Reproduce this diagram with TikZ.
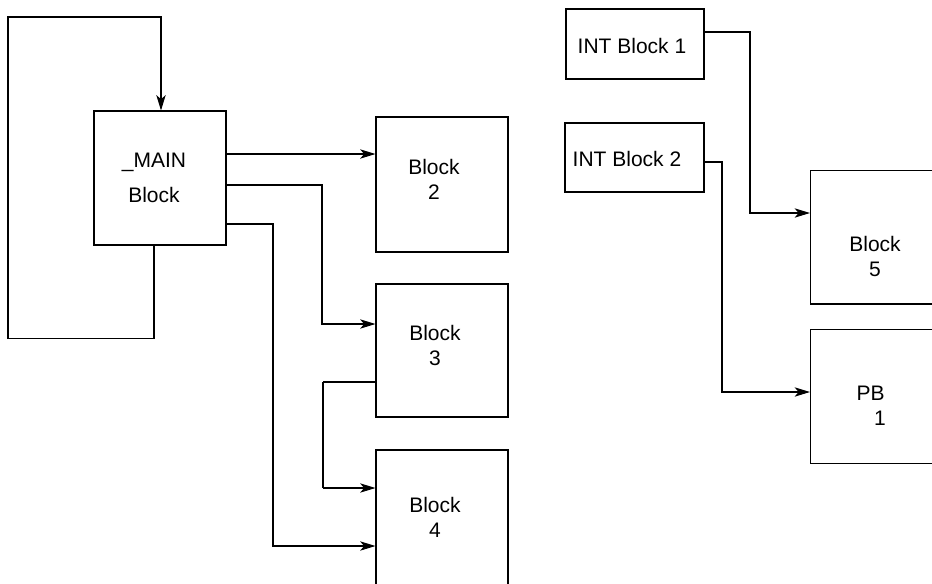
\documentclass[tikz,border=0pt]{standalone}
\usepackage{fontspec}
\setmainfont{Liberation Sans}
\usetikzlibrary{arrows.meta}
\begin{document}
\begin{tikzpicture}[x=0.75pt,y=-0.75pt,
  blk/.style={draw, line width=0.8pt, rectangle, inner sep=0pt},
  lbl/.style={align=center, inner sep=0pt, font=\fontsize{15.75pt}{18.75pt}\selectfont},
  lblwide/.style={lbl, font=\fontsize{15.75pt}{26.25pt}\selectfont},
  con/.style={line width=0.8pt},
  thickcon/.style={line width=2.2pt},
  arr/.style={con, -{Stealth[length=11.5pt,width=7pt,inset=3pt]}}]
\clip (0,0) rectangle (932,583);
% boxes
\node[blk, minimum width=99pt, minimum height=100.5pt] (main) at (160,178) {};
\node[blk, minimum width=99pt, minimum height=101.25pt] (b2) at (442,184.5) {};
\node[blk, minimum width=99pt, minimum height=99.75pt] (b3) at (442,350.5) {};
\node[blk, minimum width=99pt, minimum height=101.25pt] (b4) at (442,517.5) {};
\node[blk, minimum width=99pt, minimum height=100pt] (b5) at (876.5,237.3) {};
\node[blk, minimum width=99pt, minimum height=100.5pt] (pb) at (876.5,396.3) {};
\node[blk, minimum width=103.5pt, minimum height=52.5pt] (int1) at (635,44) {};
\node[blk, minimum width=104.25pt, minimum height=51.75pt] (int2) at (634.5,157.5) {};
% labels
\node[lblwide] (mainT) at (154,177.5) {\_MAIN\\Block};
\node[lbl] (b2T) at (434,179) {Block\\2};
\node[lbl] (b3T) at (435,345) {Block\\3};
\node[lbl] (b4T) at (435,517) {Block\\4};
\node[lbl] (b5T) at (875,256.5) {Block\\5};
\node[lbl] (pbT) at (870.5,405.5) {PB\\\hspace*{14pt}1};
\node[lbl] (int1T) at (632,45.5) {INT Block 1};
\node[lbl] (int2T) at (627,159) {INT Block 2};
% waypoints
\coordinate (fbA) at (154,338.7);
\coordinate (fbB) at (8,338.7);
\coordinate (fbC) at (8,17);
\coordinate (fbD) at (161,17);
\coordinate (m2) at (300,154);
\coordinate (m3a) at (322,185);
\coordinate (m3b) at (322,324);
\coordinate (m4a) at (273,224);
\coordinate (m4b) at (273,546);
\coordinate (t1) at (323,382);
\coordinate (t2) at (323,488);
\coordinate (i1a) at (750,32);
\coordinate (i1b) at (750,213);
\coordinate (i2a) at (722,162);
\coordinate (i2b) at (722,392);
% connectors
\draw[arr] (main.south -| fbA) -- (fbA) -- (fbB) -- (fbC) -- (fbD) -- (main.north -| fbD);
\draw[arr] (main.east |- m2) -- (b2.west |- m2);
\draw[arr] (main.east |- m3a) -- (m3a) -- (m3b) -- (b3.west |- m3b);
\draw[arr] (main.east |- m4a) -- (m4a) -- (m4b) -- (b4.west |- m4b);
\draw[con] (b3.west |- t1) -- (t1);
\draw[thickcon] (t1) -- (t2);
\draw[arr] (t2) -- (b4.west |- t2);
\draw[arr] (int1.east |- i1a) -- (i1a) -- (i1b) -- (b5.west |- i1b);
\draw[arr] (int2.east |- i2a) -- (i2a) -- (i2b) -- (pb.west |- i2b);
\end{tikzpicture}
\end{document}
